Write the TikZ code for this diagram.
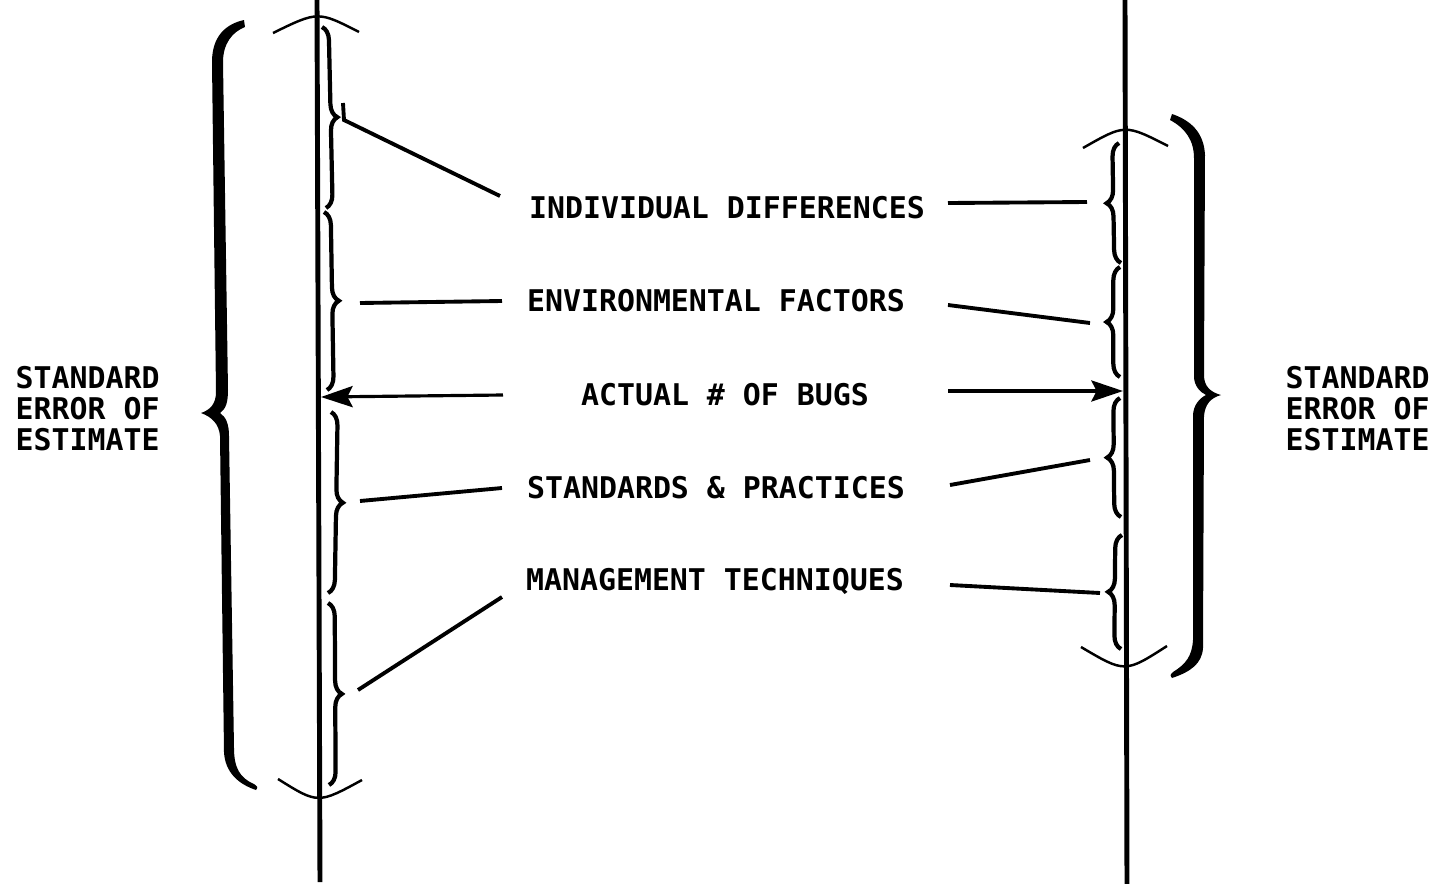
\documentclass[tikz,border=0pt]{standalone}
\usepackage{fontspec}
\newfontfamily\plotfont{DejaVu Sans Mono}
\usetikzlibrary{arrows.meta,decorations.pathreplacing}

\tikzset{
  lbl/.style={font={\plotfont\bfseries\fontsize{8.5}{8.8}\selectfont}, inner sep=0pt},
  axis/.style={line width=1.4pt},
  ray/.style={line width=1.1pt},
  pointer/.style={line width=0.9pt, -{Stealth[length=9pt,width=6pt,inset=1.5pt]}},
  curly/.style={line width=1.2pt, decorate, decoration={brace,amplitude=3.8pt}},
  band/.style={line width=0.7pt},
}

\begin{document}
\begin{tikzpicture}[x=0.01cm,y=-0.01cm]
\useasboundingbox (0,0) rectangle (1438,884);

% the two vertical scales
\draw[axis] (317,0) -- (320,882);
\draw[axis] (1125,0) -- (1127,884);

% arcs closing each range
\draw[band] (273,33) .. controls (318,11) .. (359,32);
\draw[band] (278,779) .. controls (318,804) .. (362,780);
\draw[band] (1083,148) .. controls (1125,124) .. (1168,146);
\draw[band] (1081,647) .. controls (1125,673) .. (1167,646);

% big braces: standard error of estimate
\fill (244,20) .. controls (226,24) and (212,36) .. (212,62)
  -- (216,392) .. controls (216,404) and (210,410) .. (201,413)
  .. controls (212,417) and (219,424) .. (220,436)
  -- (224,752) .. controls (225,772) and (238,784) .. (256,790)
  .. controls (258,787) .. (254,784)
  .. controls (240,778) and (234,768) .. (234,748)
  -- (229,436) .. controls (229,424) and (226,417) .. (220,413)
  .. controls (226,409) and (228,402) .. (228,390)
  -- (223,62) .. controls (223,44) and (232,32) .. (245,27) -- cycle;
\fill (1172,114) .. controls (1190,120) and (1204,132) .. (1205,155)
  -- (1204,375) .. controls (1204,386) and (1210,392) .. (1221,395)
  .. controls (1210,398) and (1205,405) .. (1204,416)
  -- (1203,648) .. controls (1202,664) and (1190,672) .. (1172,678)
  .. controls (1170,675) .. (1173,672)
  .. controls (1186,664) and (1192,656) .. (1193,640)
  -- (1193,416) .. controls (1193,405) and (1200,398) .. (1206,395)
  .. controls (1200,392) and (1194,386) .. (1194,376)
  -- (1194,158) .. controls (1194,140) and (1185,128) .. (1170,120) -- cycle;

% small braces, one per factor
\draw[curly] (322,27) -- (326,208);
\draw[curly] (324,212) -- (327,390);
\draw[curly] (331,412) -- (328,593);
\draw[curly] (328,603) -- (329,785);
\draw[curly] (1121,263) -- (1119,143);
\draw[curly] (1120,377) -- (1120,267);
\draw[curly] (1121,517) -- (1120,398);
\draw[curly] (1121,649) -- (1122,535);

% labels
\node[lbl] (idiff) at (727,208) {INDIVIDUAL DIFFERENCES};
\node[lbl] (envf) at (716,301) {ENVIRONMENTAL FACTORS};
\node[lbl] (bugs) at (725,395) {ACTUAL \# OF BUGS};
\node[lbl] (stdp) at (716,488) {STANDARDS \& PRACTICES};
\node[lbl] (mgmt) at (715,581) {MANAGEMENT TECHNIQUES};
\node[lbl, anchor=west, align=left] (see-l) at (15,409) {STANDARD\\ERROR OF\\ESTIMATE};
\node[lbl, anchor=west, align=left] (see-r) at (1285,409) {STANDARD\\ERROR OF\\ESTIMATE};

% line ends
\coordinate (idiff-a) at (500,196);
\coordinate (idiff-b) at (948,203);
\coordinate (envf-a) at (502,301);
\coordinate (envf-b) at (948,305);
\coordinate (bugs-a) at (503,395);
\coordinate (bugs-b) at (948,391);
\coordinate (stdp-a) at (502,488);
\coordinate (stdp-b) at (950,485);
\coordinate (mgmt-a) at (502,597);
\coordinate (mgmt-b) at (950,585);

\coordinate (l1) at (344,120);
\coordinate (l1t) at (343,103);
\coordinate (l2) at (360,303);
\coordinate (l3) at (321,397);
\coordinate (l4) at (360,501);
\coordinate (l5) at (358,690);
\coordinate (r1) at (1087,202);
\coordinate (r2) at (1090,323);
\coordinate (r3) at (1123,391);
\coordinate (r4) at (1090,460);
\coordinate (r5) at (1100,593);

% connectors
\draw[ray] (idiff-a) -- (l1) -- (l1t);
\draw[ray] (envf-a) -- (l2);
\draw[pointer] (bugs-a) -- (l3);
\draw[ray] (stdp-a) -- (l4);
\draw[ray] (mgmt-a) -- (l5);
\draw[ray] (idiff-b) -- (r1);
\draw[ray] (envf-b) -- (r2);
\draw[pointer] (bugs-b) -- (r3);
\draw[ray] (stdp-b) -- (r4);
\draw[ray] (mgmt-b) -- (r5);
\end{tikzpicture}
\end{document}
